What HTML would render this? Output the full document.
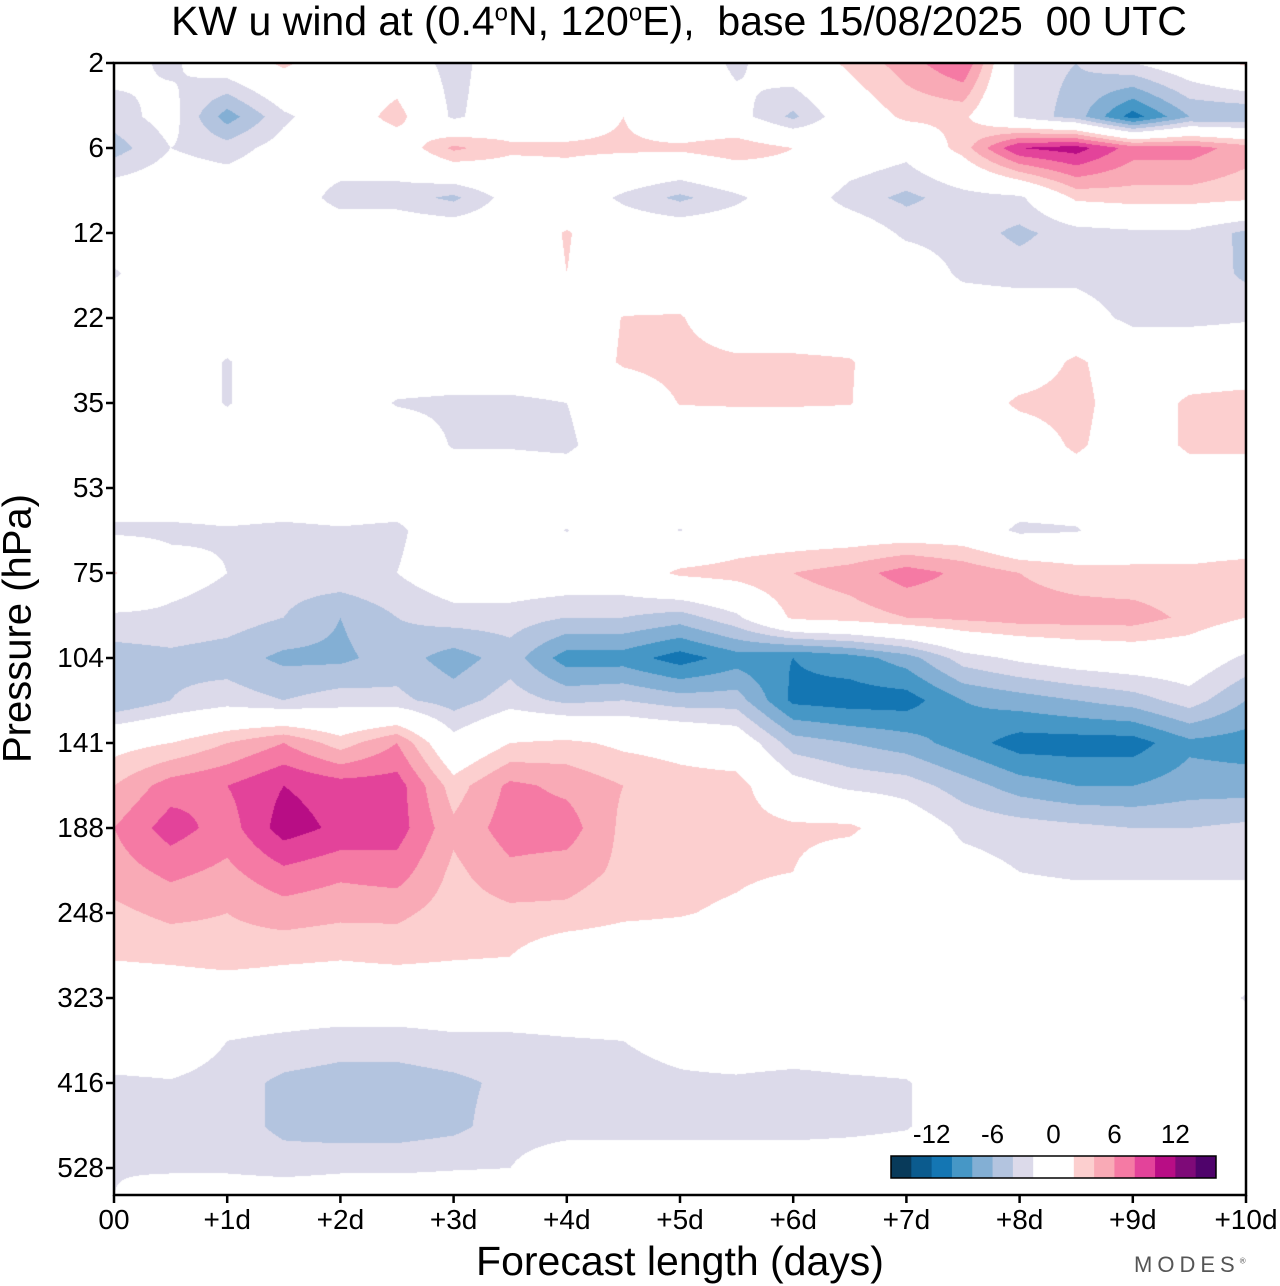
<!DOCTYPE html>
<html><head><meta charset="utf-8">
<style>
html,body{margin:0;padding:0;background:#fff;}
body{width:1280px;height:1286px;position:relative;overflow:hidden;font-family:"Liberation Sans",sans-serif;color:#000;}
.abs{position:absolute;}
.yt{position:absolute;font-size:28px;right:1176px;text-align:right;line-height:28px;}
.xt{position:absolute;font-size:28px;top:1204px;width:100px;margin-left:-50px;text-align:center;}
.cbl{position:absolute;font-size:26px;top:1119px;width:60px;margin-left:-30px;text-align:center;}
</style></head>
<body>
<div class="abs" style="left:0;width:1358px;top:-2px;text-align:center;font-size:41px;white-space:nowrap;">KW u wind at (0.4<sup style="font-size:24px">o</sup>N, 120<sup style="font-size:24px">o</sup>E),&nbsp; base 15/08/2025&nbsp; 00 UTC</div>
<canvas id="plot" width="1132" height="1132" class="abs" style="left:114px;top:63px;"></canvas>
<svg id="axes" class="abs" style="left:0;top:0" width="1280" height="1286"></svg>
<div class="abs" style="left:-132px;top:606px;width:300px;text-align:center;font-size:40px;white-space:nowrap;transform:rotate(-90deg);">Pressure (hPa)</div>
<div class="abs" style="left:330px;width:700px;top:1238px;text-align:center;font-size:41px;white-space:nowrap;">Forecast length (days)</div>
<div class="abs" style="left:1134px;top:1252px;font-size:22px;letter-spacing:5px;color:#555;">MODES<sup style="font-size:8px;letter-spacing:0">®</sup></div>
<div id="labels"></div>
<script>
const dayTicks=["00","+1d","+2d","+3d","+4d","+5d","+6d","+7d","+8d","+9d","+10d"];
const pressureTicks=[2,6,12,22,35,53,75,104,141,188,248,323,416,528];
const days=[0,0.5,1,1.5,2,2.5,3,3.5,4,4.5,5,5.5,6,6.5,7,7.5,8,8.5,9,9.5,10];
const pressures=[2,4,6,9,12,16,22,28,35,43,53,63,75,89,104,121,141,163,188,217,248,284,323,367,416,470,528,570];
const levels=[-14,-12,-10,-8,-6,-4,-2,2,4,6,8,10,12,14];
const colors=["#083a5a","#0b5b8e","#1476b3","#4697c6","#83afd4","#b3c4df","#dcdaea","#ffffff","#fccfcf","#f9aab6","#f57aa4","#e3439a","#b80d85","#7e0a78","#4f036b"];
const u2=[-1,-2.5,0,2.5,0,0,-3,0,0,0,0,-2.5,0,2.5,5,8,-3,-4,-2,0,2.5];
const u4=[-3,-1,-7,-2.5,0,3,-2.5,0,0,2,-1,-1,-4.5,0,2.5,2.5,-2.5,-5,-11,-6,-6];
const u6=[-5,-2,-3,-1,0,0,4.5,2.5,2.5,2.5,2.5,3.5,2,0,-1,3,10,11,7,7,5];
const u9=[0,0,0,0,-3,-3,-4.5,-1,0,-2.5,-4.5,-2.5,0,-3,-4.5,-3,-2.5,2.5,3,3,2.5];
const u12=[0,0,0,0,0,0,0,0,2.2,0,0,0,0,0,-2.5,-3,-4.5,-3,-2.5,-2.5,-4.5];
const u16=[-2.3,0,0,0,0,0,0,0,2,0,0,0,0,0,0,-2.5,-3,-2.5,-3,-2.2,-4.5];
const u22=[0,0,0,0,0,0,0,0,0,2.1,2.2,0,0,0,0,0,0,-1,-2.5,-2.5,-2.2];
const u28=[0,0,-2.2,0,0,0,0,0,0,2.3,2.8,2.5,2.5,2.2,0,0,0,2.5,0,0,0];
const u35=[0,0,-2.2,0,0,-2.2,-2.5,-2.5,-2,0,2.1,2.2,2.2,2.1,0,0,2.5,3,0,2.5,3];
const u43=[0,0,0,0,0,0,-2.2,-2.2,-2.5,0,0,0,0,0,0,0,0,2.5,0,2.5,2.5];
const u53=[0,0,0,0,0,0,0,0,0,0,0,0,0,0,0,0,0,0,0,0,0];
const u63=[-2.5,-2.5,-2.2,-2.5,-2.2,-2.5,0,0,-2.1,0,-2.1,0,0,0,0,0,-2.5,-2.2,0,0,0];
const u75=[2.2,-1,-2,-3,-2.5,-2,0,0,0,0,2.5,3,4,5,7,5.5,4,3,2.5,2.5,3];
const u89=[-2.5,-2.5,-3,-4,-6,-4,-3,-3,-4,-4,-5,-2.5,2.5,3,4,4.5,5,5,5,3.5,2];
const u104=[-5,-4.5,-5,-6.5,-6.5,-5,-7,-5,-9,-9,-11,-9,-10,-9,-7,-3,-1.5,-0.5,0,0,-2.5];
const u121=[-6,-4,-3,-4,-3,-3.5,-5,-3,-4.5,-4,-5,-5,-10.5,-11,-11,-8,-7,-6,-5,-3,-6];
const u141=[1,2,4,6,3,6,-1,2,2.5,1.5,1,0,-5,-6,-7,-9,-11,-11,-11,-8.5,-9];
const u163=[4,7,8,10,9,9,3,6.5,5.5,4,3,3,-1,-2.5,-3,-5,-7,-8,-8,-7,-7];
const u188=[6,9,7,11,9.5,9,4.5,7,7,3.5,3,3,2.5,2.5,0,-2.5,-3,-3.5,-4,-4,-3.5];
const u217=[5,6.5,5.5,7.5,6.5,7,3.5,5.5,5,3.5,3,2.5,2,0,0,-1,-2,-2.5,-2.5,-2.5,-2.5];
const u248=[3.5,4.5,4,5,4.5,4.5,3,3.5,3.5,2.5,2.2,1.5,0,0,0,0,0,0,0,0,0];
const u284=[2.2,2.5,3,2.5,2.2,2.5,2.2,2,0,0,0,0,0,0,0,0,0,0,0,0,0];
const u323=[0,0,0,0,0,0,0,0,0,0,0,0,0,0,0,0,0,0,0,0,-2.2];
const u367=[0,0,-2,-2.5,-3,-3,-2.5,-2.5,-2.2,-2,-1,0,0,0,0,0,0,0,0,0,0];
const u416=[-2.5,-2.2,-3,-4.5,-5,-5,-4.5,-3.5,-3,-3,-2.5,-2.5,-3,-2.5,-2.2,0,0,0,0,0,0];
const u470=[-3,-3,-3,-4.5,-5,-5,-4.5,-3,-3,-3,-3,-3,-3,-2.7,-2.2,0,0,0,0,0,0];
const u528=[-2.2,-2.5,-2.5,-3,-2.5,-2.5,-2.2,-2,0,0,0,0,0,0,0,0,0,0,0,0,0];
const u570=[-2,0,0,0,0,0,0,0,0,0,0,0,0,0,0,0,0,0,0,0,0];
const grid=[u2,u4,u6,u9,u12,u16,u22,u28,u35,u43,u53,u63,u75,u89,u104,u121,u141,u163,u188,u217,u248,u284,u323,u367,u416,u470,u528,u570];

const X0=114,X1=1246,Y0=63,YSTEP=85;
function xScale(d){return X0+(X1-X0)*d/10;}
function yScale(p){
  const t=pressureTicks;
  let i=0;
  if(p<=t[0]) i=0; else { while(i<t.length-2 && p>t[i+1]) i++; }
  const f=Math.log(p/t[i])/Math.log(t[i+1]/t[i]);
  return Y0+YSTEP*(i+f);
}
function hexToRgb(h){return [parseInt(h.substr(1,2),16),parseInt(h.substr(3,2),16),parseInt(h.substr(5,2),16)];}

(function(){
  const cv=document.getElementById('plot');const ctx=cv.getContext('2d');
  const W=cv.width,H=cv.height;
  const img=ctx.createImageData(W,H);
  const rgb=colors.map(hexToRgb);
  const rowY=pressures.map(p=>yScale(p)-Y0);
  const colX=days.map(d=>xScale(d)-X0);
  for(let py=0;py<H;py++){
    const yy=py+0.5;
    let r=0;while(r<rowY.length-2&&yy>rowY[r+1])r++;
    let fy=(yy-rowY[r])/(rowY[r+1]-rowY[r]);fy=Math.max(0,Math.min(1,fy));
    const A=grid[r],B=grid[r+1];
    for(let px=0;px<W;px++){
      const xx=px+0.5;
      let c=Math.min(colX.length-2,Math.floor(xx/(colX[1]-colX[0])));
      let fx=(xx-colX[c])/(colX[c+1]-colX[c]);fx=Math.max(0,Math.min(1,fx));
      const v=(A[c]*(1-fx)+A[c+1]*fx)*(1-fy)+(B[c]*(1-fx)+B[c+1]*fx)*fy;
      let k=0;while(k<levels.length&&v>=levels[k])k++;
      const col=rgb[k];const o=(py*W+px)*4;
      img.data[o]=col[0];img.data[o+1]=col[1];img.data[o+2]=col[2];img.data[o+3]=255;
    }
  }
  ctx.putImageData(img,0,0);
})();

(function(){
  const ns="http://www.w3.org/2000/svg";
  const svg=document.getElementById('axes');
  const lab=document.getElementById('labels');
  const frame=document.createElementNS(ns,'rect');
  
  
  frame.setAttribute('x',X0);frame.setAttribute('y',Y0);frame.setAttribute('width',X1-X0);frame.setAttribute('height',1195-Y0);
  frame.setAttribute('fill','none');frame.setAttribute('stroke','#000');frame.setAttribute('stroke-width','2.5');
  svg.appendChild(frame);
  pressureTicks.forEach(p=>{
    const y=yScale(p);
    const tk=document.createElementNS(ns,'line');
    
    
    tk.setAttribute('x1',X0-8);tk.setAttribute('x2',X0);tk.setAttribute('y1',y);tk.setAttribute('y2',y);
    tk.setAttribute('stroke','#000');tk.setAttribute('stroke-width','2.5');svg.appendChild(tk);
    const d=document.createElement('div');
    
    
    d.className='yt';d.style.top=(y-14)+'px';d.textContent=p;lab.appendChild(d);
  });
  dayTicks.forEach((t,i)=>{
    const x=xScale(i);
    const tk=document.createElementNS(ns,'line');
    
    
    tk.setAttribute('x1',x);tk.setAttribute('x2',x);tk.setAttribute('y1',1195);tk.setAttribute('y2',1203);
    tk.setAttribute('stroke','#000');tk.setAttribute('stroke-width','2.5');svg.appendChild(tk);
    const d=document.createElement('div');
    
    
    d.className='xt';d.style.left=x+'px';d.textContent=t;lab.appendChild(d);
  });
  const cbx=891,cbw=325/16;
  const g=document.createElementNS(ns,'g');
  
  
  let xpos=cbx;
  colors.forEach((c,i)=>{
    const w=(i===7)?cbw*2:cbw;
    const r=document.createElementNS(ns,'rect');
    
    
    r.setAttribute('x',xpos);r.setAttribute('y',1156);r.setAttribute('width',w+0.5);r.setAttribute('height',22);r.setAttribute('fill',c);
    g.appendChild(r);xpos+=w;
  });
  const fr=document.createElementNS(ns,'rect');
  
  
  fr.setAttribute('x',cbx);fr.setAttribute('y',1156);fr.setAttribute('width',325);fr.setAttribute('height',22);
  fr.setAttribute('fill','none');fr.setAttribute('stroke','#000');fr.setAttribute('stroke-width','1.5');
  g.appendChild(fr);svg.appendChild(g);
  [-12,-6,0,6,12].forEach(v=>{
    const d=document.createElement('div');
    
    
    d.className='cbl';d.style.left=(cbx+162.5+v*cbw/2)+'px';d.textContent=v;lab.appendChild(d);
  });
})();
</script>
</body></html>
